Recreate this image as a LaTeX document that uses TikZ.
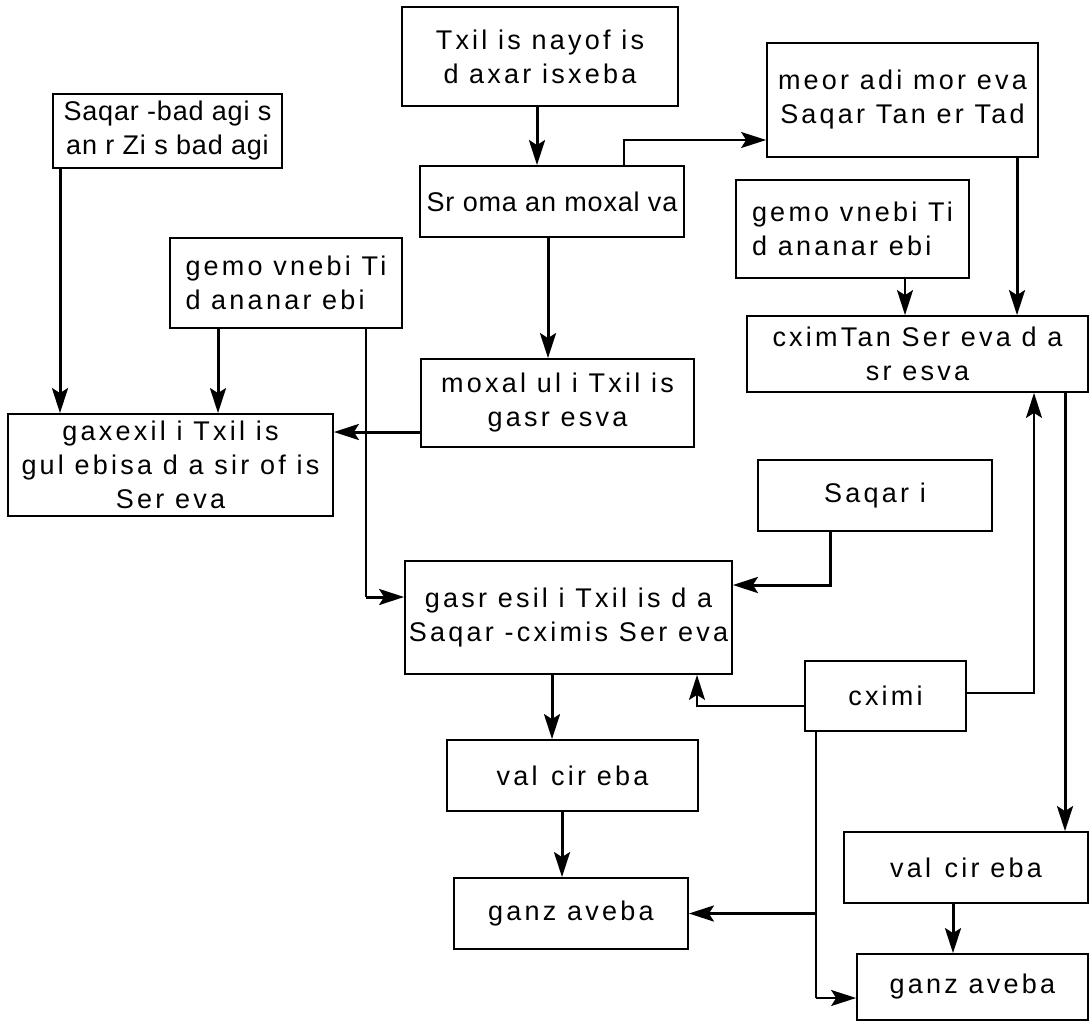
\documentclass[tikz,border=0pt]{standalone}
\usepackage{fontspec}
\setmainfont{Liberation Sans}
\newfontfamily\boxfont{Liberation Sans}[LetterSpace=12]
\newfontfamily\narrowfont{Liberation Sans}[LetterSpace=3]
\usetikzlibrary{arrows.meta}

\tikzset{
  box/.style={draw, line width=1.8pt, inner sep=0pt, align=center,
    font=\boxfont\fontsize{27}{34}\selectfont},
  tightbox/.style={box, font=\narrowfont\fontsize{27}{34}\selectfont},
  leftbox/.style={box, align=left},
  arr/.style={line width=3pt, -{Stealth[length=25pt,width=16pt,inset=5pt]}},
  arrthin/.style={line width=2pt, -{Stealth[length=25pt,width=16pt,inset=5pt]}},
  link/.style={line width=2pt}
}

\begin{document}
\begin{tikzpicture}[x=1pt,y=-1pt]
\useasboundingbox (0,0) rectangle (1091,1025);

% boxes
\node[box, minimum width=276pt, minimum height=99pt]  (A) at (540,56.5)   {Txil is nayof is\\d axar isxeba};
\node[box, minimum width=271pt, minimum height=114pt] (B) at (902.5,100)  {meor adi mor eva\\Saqar Tan er Tad};
\node[tightbox, minimum width=229pt, minimum height=74pt] (C) at (167.5,131) {Saqar -bad agi s\\an r Zi s bad agi};
\node[tightbox, minimum width=264pt, minimum height=71pt] (D) at (552,201.5) {Sr oma an moxal va};
\node[leftbox, minimum width=232pt, minimum height=90pt] (E) at (286,283) {gemo vnebi Ti\\d ananar ebi};
\node[leftbox, minimum width=233pt, minimum height=98pt] (F) at (852.5,229) {gemo vnebi Ti\\d ananar ebi};
\node[box, minimum width=341pt, minimum height=76pt]  (G) at (917.5,354)  {cximTan Ser eva d a\\sr esva};
\node[box, minimum width=325pt, minimum height=102pt] (H) at (170.5,465)  {gaxexil i Txil is\\gul ebisa d a sir of is\\Ser eva};
\node[box, minimum width=273pt, minimum height=88pt]  (I) at (557.5,403)  {moxal ul i Txil is\\gasr esva};
\node[box, minimum width=234pt, minimum height=71pt]  (J) at (875,495.5)  {Saqar i};
\node[box, minimum width=327pt, minimum height=113pt] (K) at (568.5,617.5) {gasr esil i Txil is d a\\Saqar -cximis Ser eva};
\node[box, minimum width=161pt, minimum height=70pt]  (L) at (885.5,696)  {cximi};
\node[box, minimum width=251pt, minimum height=71pt]  (M) at (572.5,775.5) {val\enspace cir eba};
\node[box, minimum width=234pt, minimum height=71pt]  (N) at (571,913.5)  {ganz aveba};
\node[box, minimum width=244pt, minimum height=71pt]  (O) at (966,867.5)  {val\enspace cir eba};
\node[box, minimum width=231pt, minimum height=66pt]  (P) at (972.5,987)  {ganz aveba};

% attachment points on the box borders
\coordinate (a1) at ([xshift=-3pt]A.south);
\coordinate (d1) at ([xshift=-4pt]D.south);
\coordinate (d2) at ([xshift=72pt]D.north);
\coordinate (k1) at ([xshift=-16.5pt]K.south);
\coordinate (k2) at ([xshift=128.5pt]K.south);
\coordinate (kw) at ([yshift=20.5pt]K.west);
\coordinate (ke) at ([yshift=32.5pt]K.east);
\coordinate (m1) at ([xshift=-10.5pt]M.south);
\coordinate (c1) at ([xshift=-107.5pt]C.south);
\coordinate (e1) at ([xshift=-68pt]E.south);
\coordinate (e2) at ([xshift=80pt]E.south);
\coordinate (b1) at ([xshift=114.5pt]B.south);
\coordinate (bw) at ([yshift=-40pt]B.west);
\coordinate (f1) at ([xshift=52.5pt]F.south);
\coordinate (g1) at ([xshift=147.5pt]G.south);
\coordinate (g2) at ([xshift=116.5pt]G.south);
\coordinate (o1) at ([xshift=-13pt]O.south);
\coordinate (iw) at ([yshift=-29pt]I.west);
\coordinate (j1) at ([xshift=-45pt]J.south);
\coordinate (lw) at ([yshift=-10pt]L.west);
\coordinate (le) at ([yshift=3pt]L.east);
\coordinate (l1) at ([xshift=-69.5pt]L.south);
\coordinate (pw) at ([yshift=-11pt]P.west);

% vertical flow
\draw[arr] (a1) -- (a1 |- D.north);
\draw[arr] (d1) -- (d1 |- I.north);
\draw[arr] (k1) -- (k1 |- M.north);
\draw[arr] (m1) -- (m1 |- N.north);
\draw[arr] (c1) -- (c1 |- H.north);
\draw[arr] (e1) -- (e1 |- H.north);
\draw[arr] (b1) -- (b1 |- G.north);
\draw[arrthin] (f1) -- (f1 |- G.north);
\draw[arr] (g1) -- (g1 |- O.north);
\draw[arr] (o1) -- (o1 |- P.north);

% side branches
\draw[arrthin] (d2) |- (bw);
\draw[arr] (iw) -- (iw -| H.east);

\coordinate (ek) at (e2 |- kw);
\draw[link] (e2) -- (ek);
\draw[arr] (ek) -- (kw);

\draw[arr] (j1) |- (ke);
\draw[arrthin] (lw) -| (k2);
\draw[arrthin] (le) -| (g2);

% cximi feeding both ganzaveba boxes
\coordinate (lp) at (l1 |- pw);
\coordinate (ln) at (l1 |- N.east);
\draw[link] (l1) -- (lp);
\draw[arrthin] (lp) -- (pw);
\draw[arr] (ln) -- (N.east);
\end{tikzpicture}
\end{document}
